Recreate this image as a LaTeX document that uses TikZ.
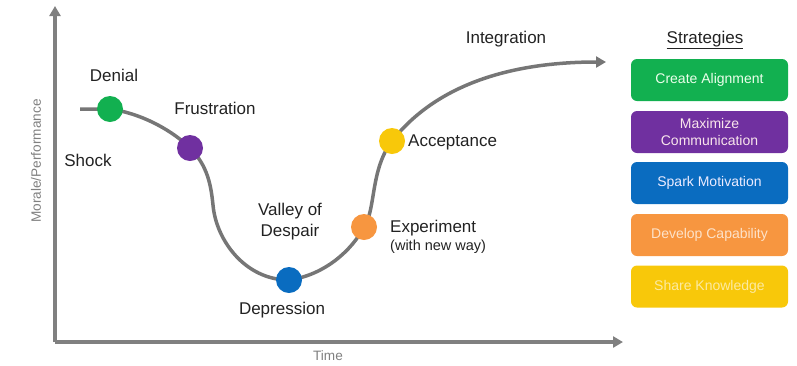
\documentclass[tikz,border=0pt]{standalone}
\usepackage{fontspec}
\setmainfont{Liberation Sans}
\usetikzlibrary{arrows.meta}
\definecolor{axisgray}{HTML}{808080}
\definecolor{curvegray}{HTML}{767676}
\definecolor{cgreen}{HTML}{12B050}
\definecolor{cpurple}{HTML}{7030A0}
\definecolor{cblue}{HTML}{0A6CC0}
\definecolor{corange}{HTML}{F79640}
\definecolor{cyellow}{HTML}{F8C80A}
\definecolor{txt}{HTML}{222222}
\begin{document}
\begin{tikzpicture}[x=1pt,y=-1pt,
  axis/.style={draw=axisgray,line width=3.5pt,-{Triangle[length=10pt,width=11pt]}},
  curve/.style={draw=curvegray,line width=3.5pt},
  dot/.style={circle,minimum size=26pt,inner sep=0pt,fill=#1},
  lbl/.style={font=\fontsize{17}{21}\selectfont,text=txt,inner sep=0pt},
  small/.style={font=\fontsize{14.5}{17}\selectfont,text=txt,inner sep=0pt},
  axlbl/.style={text=axisgray,font=\fontsize{13.6}{16}\selectfont,inner sep=0pt},
  stratbox/.style={rounded corners=6pt,fill=#1,minimum width=157pt,minimum height=42pt,inner sep=0pt,
    align=center,font=\fontsize{14}{17}\selectfont},
]
\useasboundingbox (0,0) rectangle (797,365);
% axes
\coordinate (O) at (55,342);
\coordinate (ytop) at (55,6);
\coordinate (xend) at (623,342);
\draw[axis] (O) -- (ytop);
\draw[axis] (O) -- (xend);
\node[axlbl,rotate=90] (ylab) at (36,161) {Morale/Performance};
\node[axlbl] (xlab) at (328,356) {Time};
% curve
\coordinate (start) at (80,109);
\coordinate (den) at (110,109);
\coordinate (fru) at (190,148);
\coordinate (dep) at (289,280);
\coordinate (exp) at (364,227);
\coordinate (acc) at (392,141);
\coordinate (cend) at (606,62);
\draw[curve,-{Triangle[length=10pt,width=11pt]}] (start) -- (den)
  .. controls (145,114) and (175,133) .. (fru)
  .. controls (208,166) and (211,186) .. (213,205)
  .. controls (216,240) and (245,280) .. (dep)
  .. controls (325,275) and (352,250) .. (exp)
  .. controls (376,210) and (370,170) .. (acc)
  .. controls (440,80) and (520,62) .. (cend);
\node[dot=cgreen] (ndenial) at (den) {};
\node[dot=cpurple] (nfru) at (fru) {};
\node[dot=cblue] (ndep) at (dep) {};
\node[dot=corange] (nexp) at (exp) {};
\node[dot=cyellow] (nacc) at (acc) {};
% labels
\node[lbl] (tden) at (114,75) {Denial};
\node[lbl] (tfru) at (215,108) {Frustration};
\node[lbl] (tsho) at (88,160) {Shock};
\node[lbl,align=center] (tval) at (290,222) {Valley of\\Despair};
\node[lbl] (tdep) at (282,310) {Depression};
\node[lbl,anchor=west] (texp) at (390,228) {Experiment};
\node[small,anchor=west] (texp2) at (390,247) {(with new way)};
\node[lbl,anchor=west] (tacc) at (408,142) {Acceptance};
\node[lbl] (tint) at (506,39) {Integration};
% strategies
\node[lbl] (tstr) at (705,40) {\underline{Strategies}};
\node[stratbox=cgreen,text=white!92!green] (s1) at (709.5,80) {Create Alignment};
\node[stratbox=cpurple,text=white!90!purple] (s2) at (709.5,132) {Maximize\\Communication};
\node[stratbox=cblue,text=white!92!blue] (s3) at (709.5,183) {Spark Motivation};
\node[stratbox=corange,text=white!72!corange] (s4) at (709.5,235) {Develop Capability};
\node[stratbox=cyellow,text=white!62!cyellow] (s5) at (709.5,286.5) {Share Knowledge};
\end{tikzpicture}
\end{document}
